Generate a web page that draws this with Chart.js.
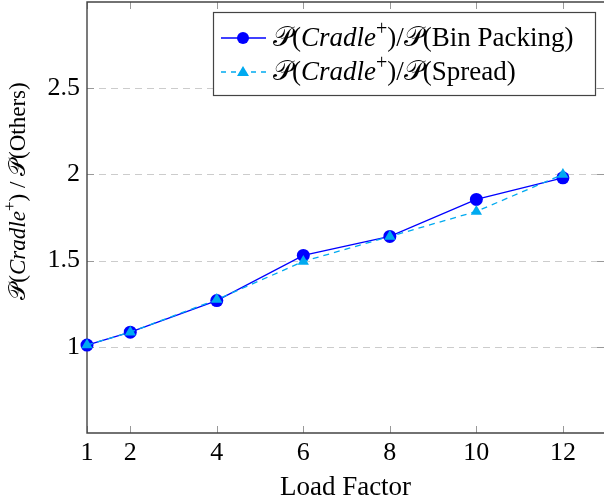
<!DOCTYPE html>
<html>
<head>
<meta charset="utf-8">
<script src="https://cdn.jsdelivr.net/npm/chart.js@4"></script>
<style>
  body { margin: 0; background: #fff; }
  canvas { display: block; }
</style>
</head>
<body>
<canvas id="chart" width="604" height="504"></canvas>
<script>
const loadFactors = [1, 2, 4, 6, 8, 10, 12];
const binPacking = [1.01, 1.085, 1.268, 1.53, 1.64, 1.855, 1.98];
const spread = [1.01, 1.085, 1.274, 1.495, 1.64, 1.785, 2.0];
const xTicks = [1, 2, 4, 6, 8, 10, 12];
const yTicks = [1, 1.5, 2, 2.5];

const SERIF = '"Liberation Serif", "DejaVu Serif", serif';
const binColor = 'rgb(0,0,255)';
const spreadColor = 'rgb(0,170,240)';

// pieces of "P(Cradle+)/P(...)" in mixed fonts
function mathLabel(rest, size) {
  return [
    { t: '\u{1D4AB}', f: size + 'px ' + SERIF },
    { t: '(', f: size + 'px ' + SERIF },
    { t: 'Cradle', f: 'italic ' + size + 'px ' + SERIF },
    { t: '+', f: Math.round(size * 0.75) + 'px ' + SERIF, dy: -size * 0.42 },
    { t: rest, f: size + 'px ' + SERIF }
  ];
}

function richWidth(ctx, segs) {
  let w = 0;
  segs.forEach(s => { ctx.font = s.f; w += ctx.measureText(s.t).width; });
  return w;
}

function drawRich(ctx, segs, x, y) {
  segs.forEach(s => {
    ctx.font = s.f;
    ctx.fillText(s.t, x, y + (s.dy || 0));
    x += ctx.measureText(s.t).width;
  });
}

const noPad = s => { s.paddingTop = 0; s.paddingBottom = 0; s.paddingLeft = 0; s.paddingRight = 0; };

const framePlugin = {
  id: 'frame',
  beforeDatasetsDraw(chart) {
    const ctx = chart.ctx, a = chart.chartArea;
    const xs = chart.scales.x, ys = chart.scales.y;
    ctx.save();
    // dashed horizontal grid
    ctx.strokeStyle = '#cccccc';
    ctx.lineWidth = 1.2;
    ctx.setLineDash([7, 5]);
    yTicks.forEach(v => {
      const py = Math.round(ys.getPixelForValue(v)) + 0.5;
      ctx.beginPath(); ctx.moveTo(a.left, py); ctx.lineTo(a.right, py); ctx.stroke();
    });
    ctx.setLineDash([]);
    // inward tick marks
    ctx.strokeStyle = '#999999';
    ctx.lineWidth = 1;
    xTicks.forEach(v => {
      const px = Math.round(xs.getPixelForValue(v)) + 0.5;
      ctx.beginPath();
      ctx.moveTo(px, a.bottom); ctx.lineTo(px, a.bottom - 7);
      ctx.moveTo(px, a.top); ctx.lineTo(px, a.top + 7);
      ctx.stroke();
    });
    yTicks.forEach(v => {
      const py = Math.round(ys.getPixelForValue(v)) + 0.5;
      ctx.beginPath();
      ctx.moveTo(a.left, py); ctx.lineTo(a.left + 7, py);
      ctx.moveTo(a.right, py); ctx.lineTo(a.right - 7, py);
      ctx.stroke();
    });
    // axis lines
    ctx.strokeStyle = '#444444';
    ctx.lineWidth = 1.4;
    ctx.beginPath();
    ctx.moveTo(a.right + 2, a.top); ctx.lineTo(a.left, a.top);
    ctx.lineTo(a.left, a.bottom); ctx.lineTo(a.right + 2, a.bottom);
    ctx.stroke();
    ctx.restore();
  },
  afterDraw(chart) {
    const ctx = chart.ctx;
    ctx.save();
    ctx.fillStyle = '#000';
    ctx.textBaseline = 'alphabetic';

    // y axis title, rotated
    const ttl = mathLabel(') / \u{1D4AB}(Others)', 23);
    const tw = richWidth(ctx, ttl);
    ctx.translate(25, 191);
    ctx.rotate(-Math.PI / 2);
    drawRich(ctx, ttl, -tw / 2, 0);
    ctx.restore();

    // legend box
    ctx.save();
    const box = { x: 213, y: 12, w: 382, h: 83 };
    ctx.fillStyle = '#fff';
    ctx.fillRect(box.x, box.y, box.w, box.h);
    ctx.strokeStyle = '#444';
    ctx.lineWidth = 1.2;
    ctx.strokeRect(box.x + 0.5, box.y + 0.5, box.w, box.h);

    const rows = [
      { segs: mathLabel(')/\u{1D4AB}(Bin Packing)', 27), color: binColor, dash: [], marker: 'circle', y: 38 },
      { segs: mathLabel(')/\u{1D4AB}(Spread)', 27), color: spreadColor, dash: [5, 5], marker: 'triangle', y: 72 }
    ];
    rows.forEach(r => {
      ctx.strokeStyle = r.color;
      ctx.lineWidth = 1.3;
      ctx.setLineDash(r.dash);
      ctx.beginPath(); ctx.moveTo(221, r.y); ctx.lineTo(266, r.y); ctx.stroke();
      ctx.setLineDash([]);
      ctx.fillStyle = r.color;
      ctx.beginPath();
      if (r.marker === 'circle') {
        ctx.arc(243, r.y, 6, 0, Math.PI * 2);
      } else {
        ctx.moveTo(243, r.y - 6); ctx.lineTo(249, r.y + 4); ctx.lineTo(237, r.y + 4); ctx.closePath();
      }
      ctx.fill();
      ctx.fillStyle = '#000';
      drawRich(ctx, r.segs, 273, r.y + 8);
    });
    ctx.restore();
  }
};

new Chart(document.getElementById('chart'), {
  type: 'line',
  data: {
    datasets: [{
      label: 'Bin Packing',
      data: loadFactors.map((x, i) => ({ x: x, y: binPacking[i] })),
      borderColor: binColor,
      backgroundColor: binColor,
      borderWidth: 1.3,
      pointStyle: 'circle',
      pointRadius: 6.5,
      pointBorderWidth: 0,
      tension: 0,
      order: 1
    }, {
      label: 'Spread',
      data: loadFactors.map((x, i) => ({ x: x, y: spread[i] })),
      borderColor: spreadColor,
      backgroundColor: spreadColor,
      borderWidth: 1.3,
      borderDash: [6, 5],
      pointStyle: 'triangle',
      pointRadius: 6.5,
      pointBorderWidth: 0,
      tension: 0,
      order: 0
    }]
  },
  options: {
    responsive: false,
    animation: false,
    clip: false,
    layout: { autoPadding: false, padding: { top: 2, right: 0, left: 0, bottom: 0 } },
    plugins: { legend: { display: false }, tooltip: { enabled: false } },
    scales: {
      x: {
        type: 'linear',
        min: 1,
        max: 12.95,
        afterBuildTicks: s => { s.ticks = xTicks.map(v => ({ value: v })); },
        afterFit: s => { s.height = 71; noPad(s); },
        grid: { display: false, drawTicks: false },
        border: { display: false },
        ticks: {
          color: '#000',
          font: { family: SERIF, size: 26 },
          padding: 5,
          maxRotation: 0,
          callback: v => String(v)
        },
        title: {
          display: true,
          text: 'Load Factor',
          color: '#000',
          font: { family: SERIF, size: 27 },
          padding: { top: 0, bottom: 0 }
        }
      },
      y: {
        type: 'linear',
        min: 0.5,
        max: 3.0,
        afterBuildTicks: s => { s.ticks = yTicks.map(v => ({ value: v })); },
        afterFit: s => { s.width = 87; noPad(s); },
        grid: { display: false, drawTicks: false },
        border: { display: false },
        ticks: {
          color: '#000',
          font: { family: SERIF, size: 26 },
          padding: 7,
          callback: v => String(v)
        }
      }
    }
  },
  plugins: [framePlugin]
});
</script>
</body>
</html>
